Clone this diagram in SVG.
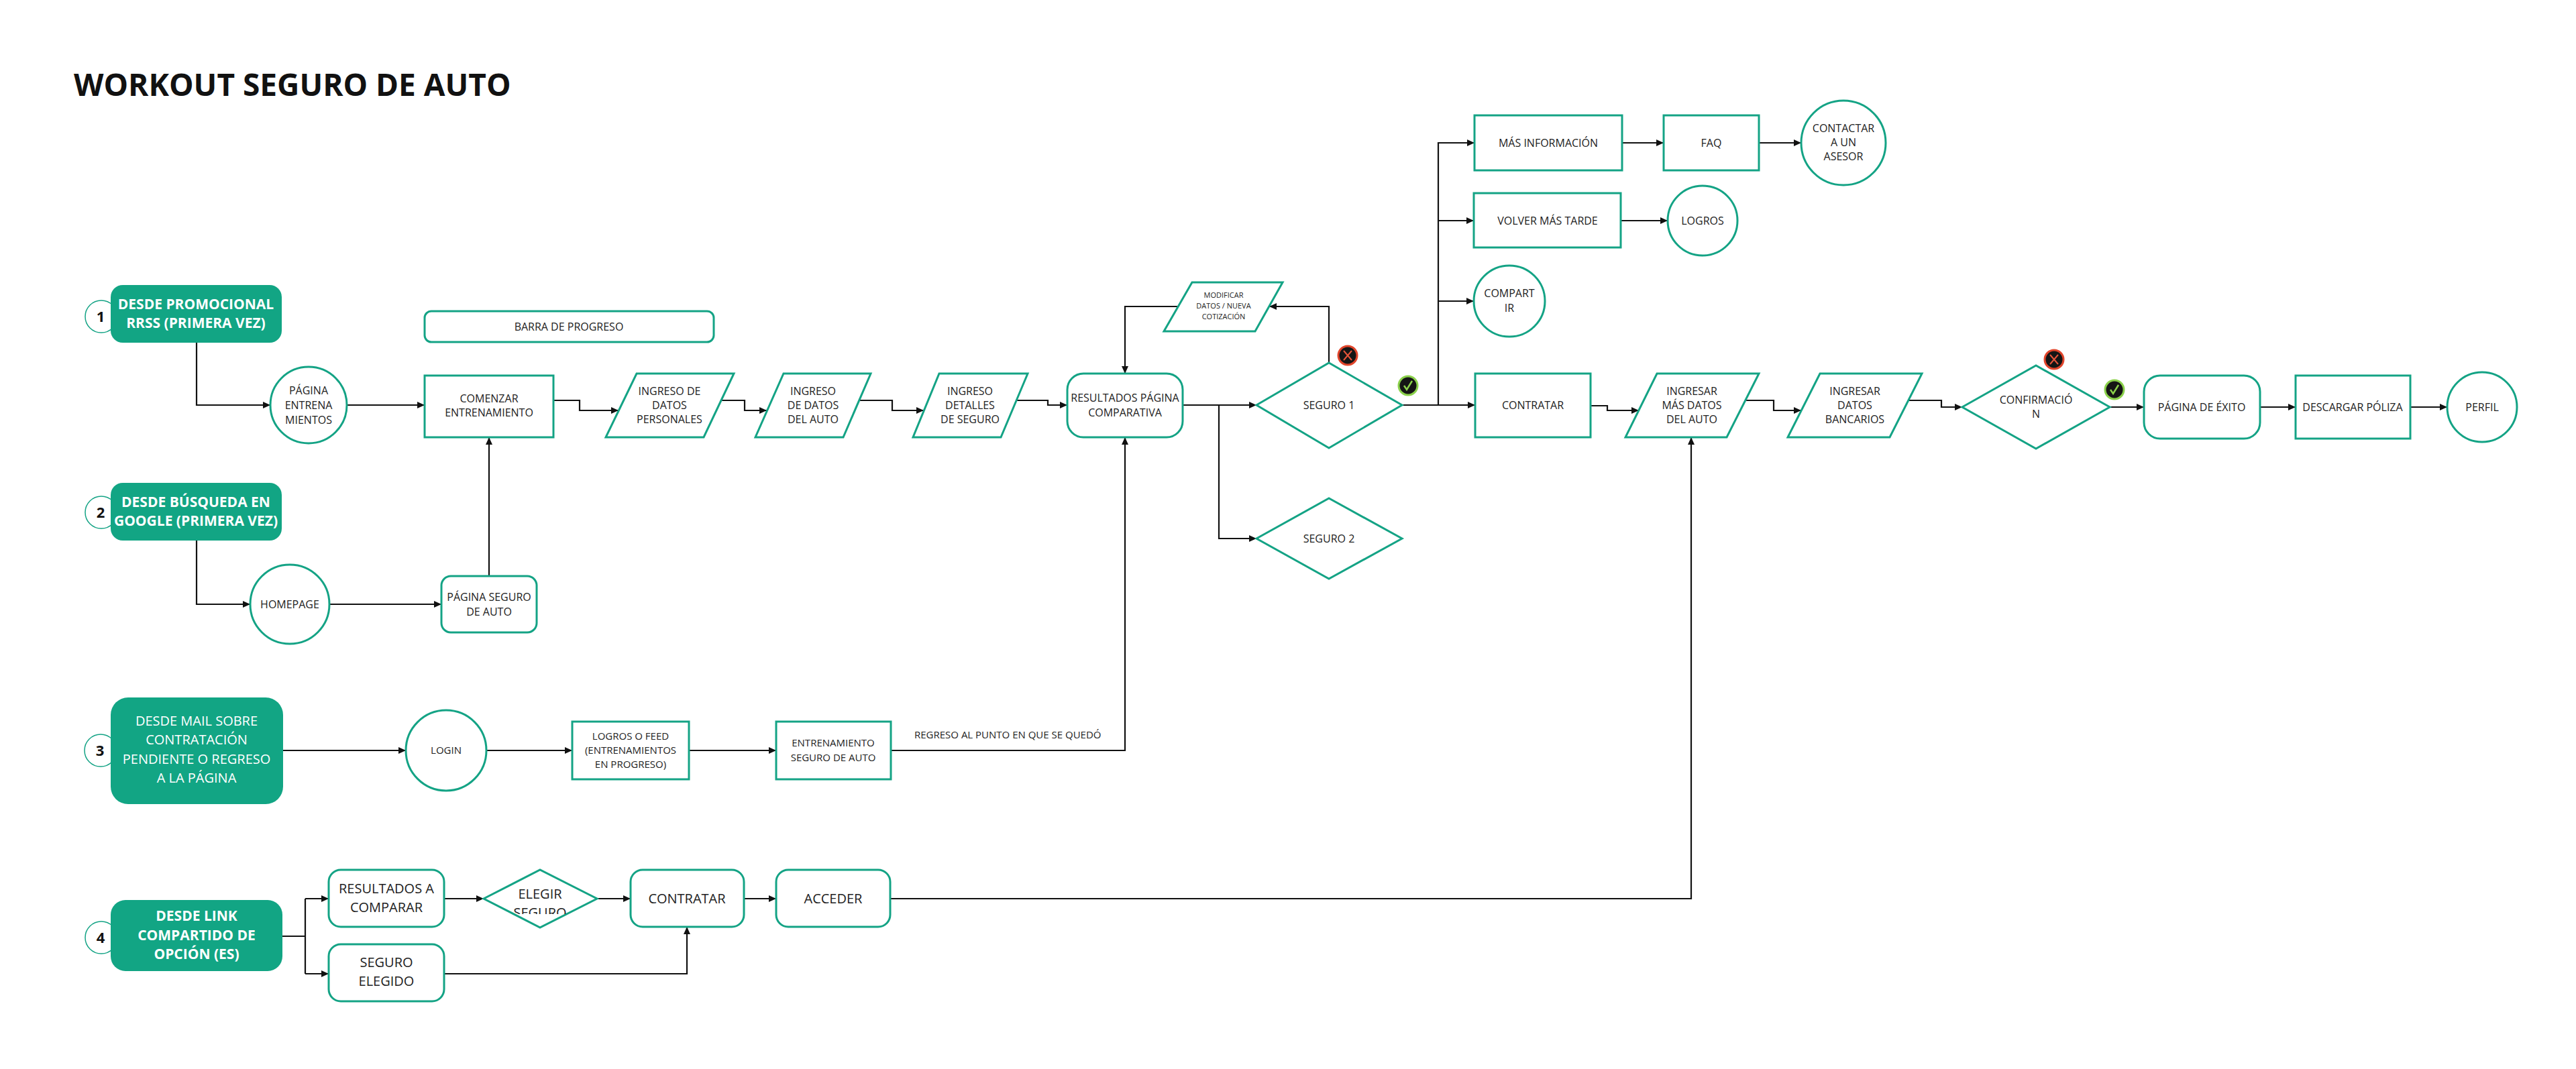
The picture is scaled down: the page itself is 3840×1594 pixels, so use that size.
<svg xmlns="http://www.w3.org/2000/svg" width="3840" height="1594" viewBox="0 0 3840 1594">
<defs>
<style>
text{font-family:"Open Sans","Liberation Sans",sans-serif;fill:#222;text-anchor:middle}
.t{font-size:16px}
.s{font-size:15px}
.m{font-size:20px}
.xs{font-size:11px}
.h{font-size:21px;font-weight:700;fill:#fff}
.hr{font-size:20px;fill:#fff}
.num{font-size:22px;font-weight:700;fill:#111}
.title{font-size:46px;font-weight:700;fill:#111;text-anchor:start}
.n{fill:#fff;stroke:#14a385;stroke-width:3}
.src{fill:#12a584;stroke:none}
.badge{fill:#fff;stroke:#14a385;stroke-width:1.5}
.c{fill:none;stroke:#111;stroke-width:2.2}
</style>
<marker id="a" markerUnits="userSpaceOnUse" markerWidth="11" markerHeight="10" refX="11" refY="5" orient="auto">
<path d="M0,0 L11,5 L0,10 z" fill="#111"/>
</marker>
<clipPath id="clipElegir"><rect x="700" y="1290" width="210" height="73"/></clipPath>
<g id="xicon"><circle r="14" fill="#151515" stroke="#e0452b" stroke-width="3"/><path d="M-6,-7 L6,7 M6,-7 L-6,7" stroke="#e8553a" stroke-width="2"/></g>
<g id="okicon"><circle r="14" fill="#151515" stroke="#8bd14b" stroke-width="3"/><path d="M-6,0 L-2,6 L6,-7" fill="none" stroke="#8bd14b" stroke-width="2.5"/></g>
</defs>
<rect width="3840" height="1594" fill="#fff"/>

<text id="title" class="title" x="110" y="143">WORKOUT SEGURO DE AUTO</text>

<g id="connectors">
<path class="c" d="M293,511 V604 H403" marker-end="url(#a)"/>
<path class="c" d="M517,604 H633" marker-end="url(#a)"/>
<path class="c" d="M293,806 V901 H373" marker-end="url(#a)"/>
<path class="c" d="M491,901 H658" marker-end="url(#a)"/>
<path class="c" d="M729,859 V652" marker-end="url(#a)"/>
<path class="c" d="M825,597 H864 V612 H922" marker-end="url(#a)"/>
<path class="c" d="M1076,597 H1110 V612 H1143" marker-end="url(#a)"/>
<path class="c" d="M1281,597 H1330 V612 H1377" marker-end="url(#a)"/>
<path class="c" d="M1515,597 H1562 V604 H1591" marker-end="url(#a)"/>
<path class="c" d="M1763,604 H1873" marker-end="url(#a)"/>
<path class="c" d="M1817,604 V803 H1873" marker-end="url(#a)"/>
<path class="c" d="M1981,541 V457 H1892" marker-end="url(#a)"/>
<path class="c" d="M1756,457 H1677 V557" marker-end="url(#a)"/>
<path class="c" d="M2090,604 H2199" marker-end="url(#a)"/>
<path class="c" d="M2144,604 V213 H2198" marker-end="url(#a)"/>
<path class="c" d="M2144,329 H2197" marker-end="url(#a)"/>
<path class="c" d="M2144,449 H2197" marker-end="url(#a)"/>
<path class="c" d="M2418,213 H2480" marker-end="url(#a)"/>
<path class="c" d="M2622,213 H2685" marker-end="url(#a)"/>
<path class="c" d="M2416,329 H2486" marker-end="url(#a)"/>
<path class="c" d="M2371,605 H2396 V612 H2443" marker-end="url(#a)"/>
<path class="c" d="M2602,597 H2644 V612 H2685" marker-end="url(#a)"/>
<path class="c" d="M2845,597 H2894 V607 H2925" marker-end="url(#a)"/>
<path class="c" d="M3145,607 H3196" marker-end="url(#a)"/>
<path class="c" d="M3369,607 H3422" marker-end="url(#a)"/>
<path class="c" d="M3593,607 H3648" marker-end="url(#a)"/>
<path class="c" d="M422,1119 H605" marker-end="url(#a)"/>
<path class="c" d="M725,1119 H853" marker-end="url(#a)"/>
<path class="c" d="M1027,1119 H1157" marker-end="url(#a)"/>
<path class="c" d="M1328,1119 H1677 V652" marker-end="url(#a)"/>
<path class="c" d="M421,1396 H455 M455,1340 V1452"/>
<path class="c" d="M455,1340 H490" marker-end="url(#a)"/>
<path class="c" d="M455,1452 H490" marker-end="url(#a)"/>
<path class="c" d="M662,1340 H721" marker-end="url(#a)"/>
<path class="c" d="M890,1340 H940" marker-end="url(#a)"/>
<path class="c" d="M1109,1340 H1157" marker-end="url(#a)"/>
<path class="c" d="M662,1452 H1024 V1382" marker-end="url(#a)"/>
<path class="c" d="M1327,1340 H2521 V652" marker-end="url(#a)"/>
<text class="s" x="1363" y="1101" style="text-anchor:start">REGRESO AL PUNTO EN QUE SE QUEDÓ</text>
</g>

<g id="src1">
<circle class="badge" cx="151" cy="472" r="24"/>
<rect class="src" x="165" y="425" width="255" height="86" rx="18"/>
<text class="num" x="150" y="480">1</text>
<text class="h"><tspan x="292" y="461">DESDE PROMOCIONAL</tspan><tspan x="292" y="489">RRSS (PRIMERA VEZ)</tspan></text>
</g>
<g id="src2">
<circle class="badge" cx="151" cy="764" r="24"/>
<rect class="src" x="165" y="720" width="255" height="86" rx="18"/>
<text class="num" x="150" y="772">2</text>
<text class="h"><tspan x="292" y="756">DESDE BÚSQUEDA EN</tspan><tspan x="292" y="784">GOOGLE (PRIMERA VEZ)</tspan></text>
</g>
<g id="src3">
<circle class="badge" cx="150" cy="1119" r="24"/>
<rect class="src" x="165" y="1040" width="257" height="159" rx="26"/>
<text class="num" x="149" y="1127">3</text>
<text class="hr"><tspan x="293" y="1082">DESDE MAIL SOBRE</tspan><tspan x="293" y="1110">CONTRATACIÓN</tspan><tspan x="293" y="1139">PENDIENTE O REGRESO</tspan><tspan x="293" y="1167">A LA PÁGINA</tspan></text>
</g>
<g id="src4">
<circle class="badge" cx="151" cy="1398" r="24"/>
<rect class="src" x="165" y="1342" width="256" height="106" rx="22"/>
<text class="num" x="150" y="1406">4</text>
<text class="h"><tspan x="293" y="1373">DESDE LINK</tspan><tspan x="293" y="1402">COMPARTIDO DE</tspan><tspan x="293" y="1430">OPCIÓN (ES)</tspan></text>
</g>

<g id="barra">
<rect class="n" x="633" y="464" width="431" height="46" rx="10"/>
<text class="t" x="848" y="493">BARRA DE PROGRESO</text>
</g>
<g id="pagina-entrenamientos">
<circle class="n" cx="460" cy="604" r="57"/>
<text class="t"><tspan x="460" y="588">PÁGINA</tspan><tspan x="460" y="610">ENTRENA</tspan><tspan x="460" y="632">MIENTOS</tspan></text>
</g>
<g id="comenzar">
<rect class="n" x="633" y="560" width="192" height="92"/>
<text class="t"><tspan x="729" y="600">COMENZAR</tspan><tspan x="729" y="621">ENTRENAMIENTO</tspan></text>
</g>
<g id="homepage">
<circle class="n" cx="432" cy="901" r="59"/>
<text class="t" x="432" y="907">HOMEPAGE</text>
</g>
<g id="pagina-seguro">
<rect class="n" x="658" y="859" width="142" height="84" rx="14"/>
<text class="t"><tspan x="729" y="896">PÁGINA SEGURO</tspan><tspan x="729" y="918">DE AUTO</tspan></text>
</g>
<g id="datos-personales">
<polygon class="n" points="949,557 1094,557 1049,652 903,652"/>
<text class="t"><tspan x="998" y="589">INGRESO DE</tspan><tspan x="998" y="610">DATOS</tspan><tspan x="998" y="631">PERSONALES</tspan></text>
</g>
<g id="datos-auto">
<polygon class="n" points="1168,557 1298,557 1257,652 1126,652"/>
<text class="t"><tspan x="1212" y="589">INGRESO</tspan><tspan x="1212" y="610">DE DATOS</tspan><tspan x="1212" y="631">DEL AUTO</tspan></text>
</g>
<g id="detalles-seguro">
<polygon class="n" points="1400,557 1532,557 1492,652 1361,652"/>
<text class="t"><tspan x="1446" y="589">INGRESO</tspan><tspan x="1446" y="610">DETALLES</tspan><tspan x="1446" y="631">DE SEGURO</tspan></text>
</g>
<g id="resultados">
<rect class="n" x="1591" y="557" width="172" height="95" rx="24"/>
<text class="t"><tspan x="1677" y="599">RESULTADOS PÁGINA</tspan><tspan x="1677" y="621">COMPARATIVA</tspan></text>
</g>
<g id="modificar">
<polygon class="n" points="1777,421 1912,421 1871,494 1735,494"/>
<text class="xs"><tspan x="1824" y="444">MODIFICAR</tspan><tspan x="1824" y="460">DATOS / NUEVA</tspan><tspan x="1824" y="476">COTIZACIÓN</tspan></text>
</g>
<g id="seguro1">
<polygon class="n" points="1873,604 1981,541 2090,604 1981,668"/>
<text class="t" x="1981" y="610">SEGURO 1</text>
<use href="#xicon" x="2009" y="530"/>
<use href="#okicon" x="2099" y="575"/>
</g>
<g id="seguro2">
<polygon class="n" points="1873,803 1981,743 2090,803 1981,863"/>
<text class="t" x="1981" y="809">SEGURO 2</text>
</g>
<g id="mas-info">
<rect class="n" x="2198" y="172" width="220" height="82"/>
<text class="t" x="2308" y="219">MÁS INFORMACIÓN</text>
</g>
<g id="faq">
<rect class="n" x="2480" y="172" width="142" height="82"/>
<text class="t" x="2551" y="219">FAQ</text>
</g>
<g id="contactar">
<circle class="n" cx="2748" cy="213" r="63"/>
<text class="t"><tspan x="2748" y="197">CONTACTAR</tspan><tspan x="2748" y="218">A UN</tspan><tspan x="2748" y="239">ASESOR</tspan></text>
</g>
<g id="volver">
<rect class="n" x="2197" y="288" width="219" height="81"/>
<text class="t" x="2307" y="335">VOLVER MÁS TARDE</text>
</g>
<g id="logros">
<circle class="n" cx="2538" cy="329" r="52"/>
<text class="t" x="2538" y="335">LOGROS</text>
</g>
<g id="compartir">
<circle class="n" cx="2250" cy="449" r="53"/>
<text class="t"><tspan x="2250" y="443">COMPART</tspan><tspan x="2250" y="465">IR</tspan></text>
</g>
<g id="contratar">
<rect class="n" x="2199" y="557" width="172" height="95"/>
<text class="t" x="2285" y="610">CONTRATAR</text>
</g>
<g id="mas-datos-auto">
<polygon class="n" points="2470,557 2622,557 2574,652 2423,652"/>
<text class="t"><tspan x="2522" y="589">INGRESAR</tspan><tspan x="2522" y="610">MÁS DATOS</tspan><tspan x="2522" y="631">DEL AUTO</tspan></text>
</g>
<g id="datos-bancarios">
<polygon class="n" points="2713,557 2865,557 2817,652 2665,652"/>
<text class="t"><tspan x="2765" y="589">INGRESAR</tspan><tspan x="2765" y="610">DATOS</tspan><tspan x="2765" y="631">BANCARIOS</tspan></text>
</g>
<g id="confirmacion">
<polygon class="n" points="2925,607 3035,545 3145,607 3035,669"/>
<text class="t"><tspan x="3035" y="602">CONFIRMACIÓ</tspan><tspan x="3035" y="623">N</tspan></text>
<use href="#xicon" x="3062" y="536"/>
<use href="#okicon" x="3152" y="581"/>
</g>
<g id="exito">
<rect class="n" x="3196" y="560" width="173" height="94" rx="24"/>
<text class="t" x="3282" y="613">PÁGINA DE ÉXITO</text>
</g>
<g id="descargar">
<rect class="n" x="3422" y="560" width="171" height="94"/>
<text class="t" x="3507" y="613">DESCARGAR PÓLIZA</text>
</g>
<g id="perfil">
<circle class="n" cx="3700" cy="607" r="52"/>
<text class="t" x="3700" y="613">PERFIL</text>
</g>

<g id="login">
<circle class="n" cx="665" cy="1119" r="60"/>
<text class="s" x="665" y="1124">LOGIN</text>
</g>
<g id="logros-feed">
<rect class="n" x="853" y="1076" width="174" height="86"/>
<text class="s"><tspan x="940" y="1103">LOGROS O FEED</tspan><tspan x="940" y="1124">(ENTRENAMIENTOS</tspan><tspan x="940" y="1145">EN PROGRESO)</tspan></text>
</g>
<g id="entrenamiento-seguro">
<rect class="n" x="1157" y="1076" width="171" height="86"/>
<text class="s"><tspan x="1242" y="1113">ENTRENAMIENTO</tspan><tspan x="1242" y="1135">SEGURO DE AUTO</tspan></text>
</g>

<g id="resultados-comparar">
<rect class="n" x="490" y="1297" width="172" height="85" rx="18"/>
<text class="m"><tspan x="576" y="1332">RESULTADOS A</tspan><tspan x="576" y="1360">COMPARAR</tspan></text>
</g>
<g id="seguro-elegido">
<rect class="n" x="490" y="1408" width="172" height="85" rx="18"/>
<text class="m"><tspan x="576" y="1442">SEGURO</tspan><tspan x="576" y="1470">ELEGIDO</tspan></text>
</g>
<g id="elegir-seguro">
<polygon class="n" points="721,1340 805,1297 890,1340 805,1383"/>
<text class="m" clip-path="url(#clipElegir)"><tspan x="805" y="1340">ELEGIR</tspan><tspan x="805" y="1368">SEGURO</tspan></text>
</g>
<g id="contratar2">
<rect class="n" x="940" y="1297" width="169" height="85" rx="18"/>
<text class="m" x="1024" y="1347">CONTRATAR</text>
</g>
<g id="acceder">
<rect class="n" x="1157" y="1297" width="170" height="85" rx="18"/>
<text class="m" x="1242" y="1347">ACCEDER</text>
</g>
</svg>
